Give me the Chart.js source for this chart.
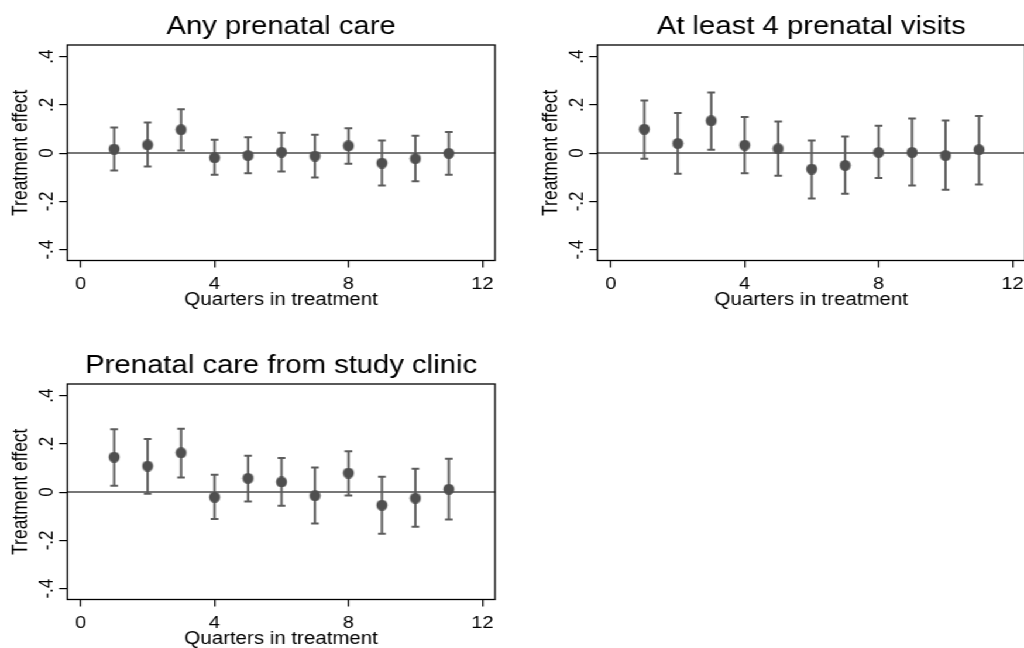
<!DOCTYPE html>
<html>
<head>
<meta charset="utf-8">
<script src="https://cdn.jsdelivr.net/npm/chart.js@4.4.1/dist/chart.umd.min.js"></script>
<style>
  html, body { margin: 0; padding: 0; background: #fff; overflow: hidden; }
  /* the figure is laid out narrow and widened as a whole */
  #sheet {
    position: absolute; left: 0; top: 0;
    width: 875px; height: 648px; overflow: hidden;
    transform: scaleX(1.1703); transform-origin: 0 0;
  }
  #sheet canvas { position: absolute; }
</style>
</head>
<body>
<div id="sheet">
  <canvas id="panel-any" width="440" height="320" style="left:0;top:0"></canvas>
  <canvas id="panel-four" width="440" height="320" style="left:452.9px;top:0"></canvas>
  <canvas id="panel-clinic" width="440" height="320" style="left:0;top:339px"></canvas>
</div>
<script>
// ---- data -------------------------------------------------------------------
const quarters = [1, 2, 3, 4, 5, 6, 7, 8, 9, 10, 11];
const xTickValues = [0, 4, 8, 12];
const yTickValues = [-0.4, -0.2, 0, 0.2, 0.4];
const yTickLabels = ['-.4', '-.2', '0', '.2', '.4'];

// Any prenatal care
const anyCareEst = [0.017, 0.034, 0.097, -0.019, -0.010, 0.004, -0.012, 0.030, -0.041, -0.023, -0.001];
const anyCareLo  = [-0.072, -0.055, 0.011, -0.090, -0.083, -0.076, -0.101, -0.044, -0.134, -0.117, -0.090];
const anyCareHi  = [0.106, 0.127, 0.182, 0.055, 0.066, 0.084, 0.076, 0.103, 0.052, 0.072, 0.087];

// At least 4 prenatal visits
const fourVisitsEst = [0.099, 0.040, 0.134, 0.033, 0.018, -0.066, -0.051, 0.003, 0.003, -0.010, 0.014];
const fourVisitsLo  = [-0.023, -0.086, 0.014, -0.083, -0.094, -0.188, -0.168, -0.103, -0.134, -0.152, -0.130];
const fourVisitsHi  = [0.218, 0.166, 0.251, 0.150, 0.131, 0.052, 0.069, 0.113, 0.143, 0.135, 0.154];

// Prenatal care from study clinic
const clinicEst = [0.145, 0.108, 0.163, -0.021, 0.057, 0.042, -0.015, 0.079, -0.054, -0.025, 0.012];
const clinicLo  = [0.026, -0.007, 0.061, -0.111, -0.039, -0.057, -0.130, -0.014, -0.173, -0.144, -0.113];
const clinicHi  = [0.260, 0.220, 0.263, 0.072, 0.151, 0.141, 0.102, 0.169, 0.064, 0.097, 0.138];

// ---- style --------------------------------------------------------------------
const FONT = '"Liberation Sans", Arial, Helvetica, sans-serif';
const STRETCH = 1.1703;
const markerColor = '#4f4f4f';
const barColor = '#5c5c5c';
const zeroColor = '#4a4a4a';

// round marker once the sheet is widened
function makeDot(diameter, color) {
    const c = document.createElement('canvas');
    c.width = diameter;
    c.height = diameter;
    const g = c.getContext('2d');
    g.fillStyle = color;
    g.beginPath();
    g.ellipse(diameter / 2, diameter / 2, diameter / 2 / STRETCH, diameter / 2, 0, 0, Math.PI * 2);
    g.fill();
    return c;
}
const dot = makeDot(11, markerColor);

// zero line, confidence intervals and the outer frame
const errorBarPlugin = {
    id: 'errorBars',
    beforeDatasetsDraw(chart) {
        const {ctx, chartArea, scales: {x, y}} = chart;
        ctx.save();
        ctx.beginPath();
        ctx.rect(chartArea.left, chartArea.top, chartArea.width, chartArea.height);
        ctx.clip();

        const y0 = y.getPixelForValue(0);
        ctx.strokeStyle = zeroColor;
        ctx.lineWidth = 1.5;
        ctx.beginPath();
        ctx.moveTo(chartArea.left, y0);
        ctx.lineTo(chartArea.right, y0);
        ctx.stroke();

        const cap = 3.3;
        chart.data.datasets.forEach(ds => {
            ctx.strokeStyle = barColor;
            ctx.lineWidth = 2;
            ds.data.forEach((p, i) => {
                const px = x.getPixelForValue(p.x);
                const top = y.getPixelForValue(ds.hi[i]);
                const bot = y.getPixelForValue(ds.lo[i]);
                ctx.beginPath();
                ctx.moveTo(px, top);
                ctx.lineTo(px, bot);
                ctx.moveTo(px - cap, top);
                ctx.lineTo(px + cap, top);
                ctx.moveTo(px - cap, bot);
                ctx.lineTo(px + cap, bot);
                ctx.stroke();
            });
        });
        ctx.restore();
    },
    afterDraw(chart) {
        const {ctx, chartArea} = chart;
        ctx.save();
        ctx.strokeStyle = '#000';
        ctx.lineWidth = 1.3;
        ctx.strokeRect(chartArea.left, chartArea.top, chartArea.width, chartArea.height);
        ctx.restore();
    }
};

function drawPanel(id, title, est, lo, hi) {
    const canvas = document.getElementById(id);
    new Chart(canvas.getContext('2d'), {
        type: 'scatter',
        data: {
            datasets: [{
                data: quarters.map((q, i) => ({x: q, y: est[i]})),
                lo: lo,
                hi: hi,
                pointStyle: dot,
                pointRadius: 5.5,
                showLine: false
            }]
        },
        options: {
            responsive: false,
            animation: false,
            events: [],
            layout: {
                padding: {left: 0, top: 0, right: 17, bottom: 9.5}
            },
            plugins: {
                legend: {display: false},
                tooltip: {enabled: false},
                title: {
                    display: true,
                    text: title,
                    fullSize: false,
                    color: '#000',
                    font: {family: FONT, size: 25, weight: 'normal'},
                    padding: {top: 12.2, bottom: 2.8}
                }
            },
            scales: {
                x: {
                    type: 'linear',
                    min: -0.4,
                    max: 12.38,
                    afterBuildTicks: s => { s.ticks = xTickValues.map(v => ({value: v})); },
                    afterFit: s => { s.height = 50; },
                    grid: {drawOnChartArea: false, drawTicks: true, tickLength: 7, color: '#000', lineWidth: 1.2},
                    border: {display: false},
                    ticks: {
                        color: '#000',
                        font: {family: FONT, size: 17},
                        padding: 6.5,
                        maxRotation: 0,
                        autoSkip: false
                    },
                    title: {
                        display: true,
                        text: 'Quarters in treatment',
                        color: '#000',
                        font: {family: FONT, size: 17.5},
                        padding: {top: 0, bottom: 0}
                    }
                },
                y: {
                    type: 'linear',
                    min: -0.445,
                    max: 0.448,
                    afterBuildTicks: s => { s.ticks = yTickValues.map(v => ({value: v})); },
                    afterFit: s => { s.width = 57.5; },
                    grid: {drawOnChartArea: false, drawTicks: true, tickLength: 7, color: '#000', lineWidth: 1.2},
                    border: {display: false},
                    ticks: {
                        color: '#000',
                        font: {family: FONT, size: 17},
                        padding: 0,
                        minRotation: 90,
                        maxRotation: 90,
                        crossAlign: 'center',
                        autoSkip: false,
                        callback: (v, i) => yTickLabels[i]
                    },
                    title: {
                        display: true,
                        text: 'Treatment effect',
                        color: '#000',
                        font: {family: FONT, size: 17.5},
                        padding: {top: 7.3, bottom: 0}
                    }
                }
            }
        },
        plugins: [errorBarPlugin]
    });
}

drawPanel('panel-any', 'Any prenatal care', anyCareEst, anyCareLo, anyCareHi);
drawPanel('panel-four', 'At least 4 prenatal visits', fourVisitsEst, fourVisitsLo, fourVisitsHi);
drawPanel('panel-clinic', 'Prenatal care from study clinic', clinicEst, clinicLo, clinicHi);
</script>
</body>
</html>
